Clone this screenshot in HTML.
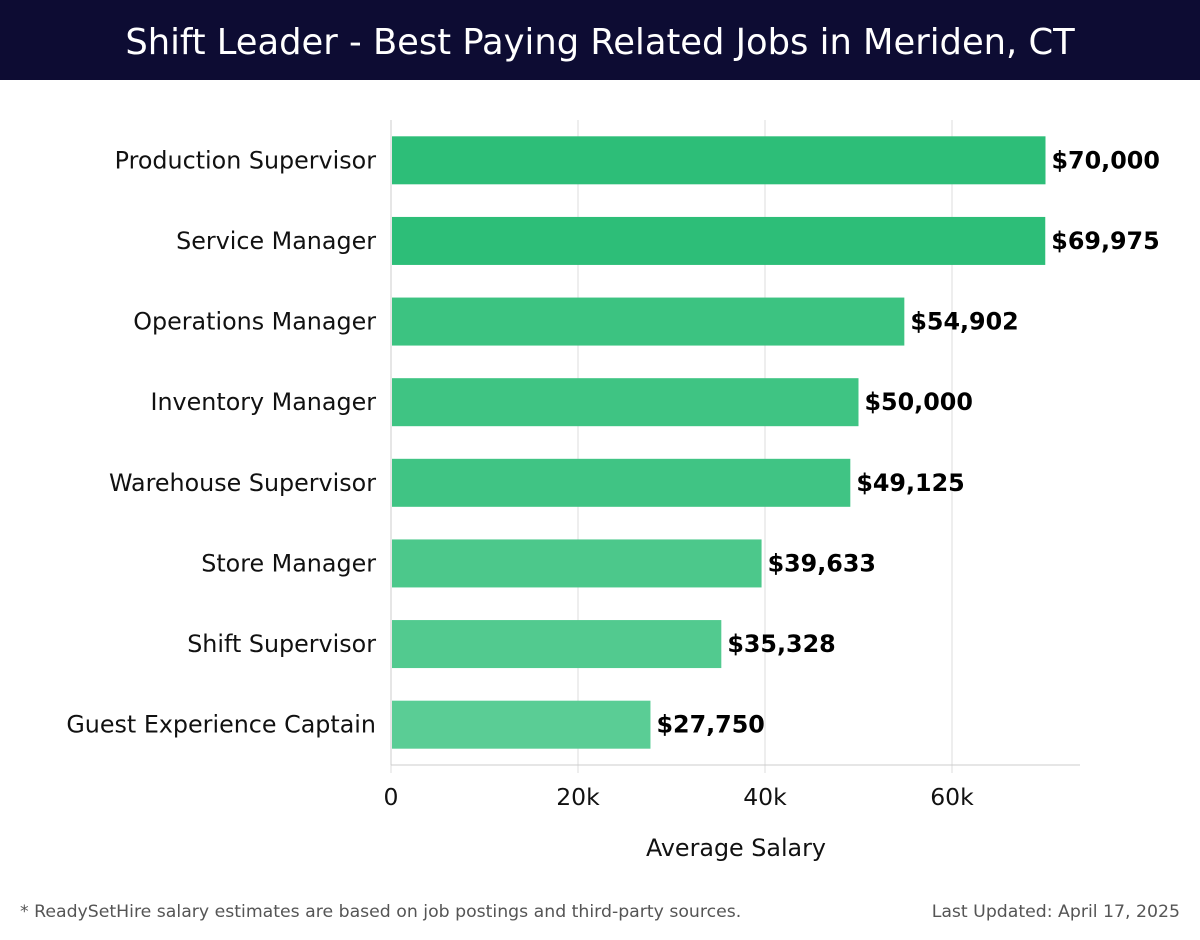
<!DOCTYPE html>
<html><head><meta charset="utf-8"><style>
body{margin:0;width:1200px;height:940px;background:#fff;font-family:"DejaVu Sans",sans-serif;overflow:hidden}
#hdr{position:absolute;left:0;top:0;width:1200px;height:80px;background:#0d0c33;color:#fff;font-size:35.3px;text-align:center;line-height:86px}
.ft{position:absolute;top:902px;font-size:17.3px;color:#555}
</style></head><body>
<div id="hdr">Shift Leader - Best Paying Related Jobs in Meriden, CT</div>
<svg id="c" width="1200" height="940" style="position:absolute;left:0;top:0;pointer-events:none;font-family:'DejaVu Sans',sans-serif"></svg>
<div class="ft" style="left:20px">* ReadySetHire salary estimates are based on job postings and third-party sources.</div>
<div class="ft" style="right:20px">Last Updated: April 17, 2025</div>
<script>
const categories=["Production Supervisor","Service Manager","Operations Manager","Inventory Manager","Warehouse Supervisor","Store Manager","Shift Supervisor","Guest Experience Captain"];
const values=[70000,69975,54902,50000,49125,39633,35328,27750];
const ticks=[0,20000,40000,60000];
const tickLabels=["0","20k","40k","60k"];
const colors=["#2dbe78","#2dbe78","#3cc381","#3fc483","#40c484","#4cc88b","#52ca8f","#5acd95"];
const svg=document.getElementById('c');const NS="http://www.w3.org/2000/svg";
const x0=391,pxPer=187/20000,top0=120,bottom=765,xEnd=1080;
const band=(bottom-top0)/categories.length,bh=48;
const X=v=>x0+v*pxPer;
function mk(t,a){const e=document.createElementNS(NS,t);for(const k in a)e.setAttribute(k,a[k]);svg.appendChild(e);return e;}
ticks.forEach((t,i)=>{
 const g=mk('line',{x1:X(t),x2:X(t),y1:top0,y2:bottom+8,stroke:'#ddd','stroke-width':1});
 
 
 const l=mk('text',{x:X(t),y:805,'text-anchor':'middle','font-size':23.5,fill:'#111'});l.textContent=tickLabels[i];
 
 
});
const ax=mk('line',{x1:x0,x2:xEnd,y1:bottom,y2:bottom,stroke:'#ccc'});


const ay=mk('line',{x1:x0,x2:x0,y1:top0,y2:bottom,stroke:'#ccc'});


categories.forEach((c,i)=>{
 const cy=top0+band*(i+0.5);
 const r=mk('rect',{x:x0+1,y:cy-bh/2,width:X(values[i])-x0-1,height:bh,fill:colors[i]});
 
 
 const l=mk('text',{x:376,y:cy+8,'text-anchor':'end','font-size':23.8,fill:'#111'});l.textContent=c;
 
 
 const v=mk('text',{x:X(values[i])+6,y:cy+8,'font-size':23.8,'font-weight':'bold',fill:'#000'});v.textContent='$'+values[i].toLocaleString('en-US');
 
 
});
const t=mk('text',{x:736,y:856,'text-anchor':'middle','font-size':23.8,fill:'#111'});t.textContent='Average Salary';


</script>
</body></html>
